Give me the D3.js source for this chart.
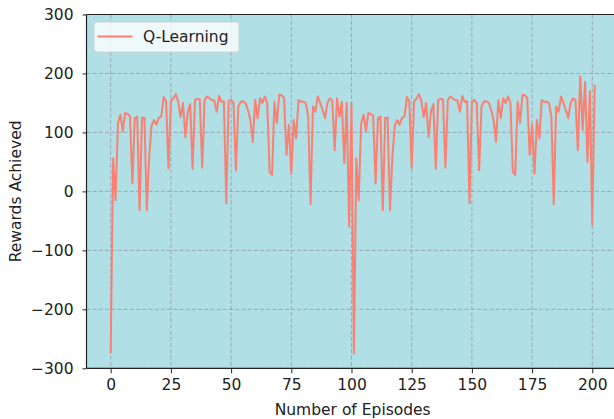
<!DOCTYPE html>
<html>
<head>
<meta charset="utf-8">
<script src="https://cdn.jsdelivr.net/npm/d3@7/dist/d3.min.js"></script>
<style>
  html, body { margin: 0; padding: 0; background: #ffffff; }
  svg { display: block; }
  text { font-family: "DejaVu Sans", sans-serif; fill: #222; }
</style>
</head>
<body>
<svg id="chart" width="614" height="419"></svg>
<script>
// Rewards per episode, first training run (episodes 0–100)
const rewardsRun1 = [
  -275, 56, -15, 115, 130, 102, 133, 131, 128, 14,
  124, 127, -32, 125, 125, -32, 60, 112, 121, 113,
  125, 127, 160, 153, 39, 153, 157, 165, 153, 126,
  150, 92, 135, 148, 38, 155, 157, 156, 40, 155,
  161, 158, 155, 154, 135, 162, 152, 153, -20, 153,
  155, 150, 36, 144, 152, 153, 150, 138, 121, 84,
  155, 124, 158, 150, 161, 150, 33, 28, 152, 116,
  164, 163, 158, 62, 113, 30, 121, 90, 155, 152,
  152, 150, 127, -22, 144, 135, 161, 150, 138, 124,
  150, 158, 155, 70, 158, 127, 152, 48, 150, -60,
  150
];
// Rewards per episode, second training run (episodes 101–201)
const rewardsRun2 = [
  -275, 56, -15, 115, 130, 102, 133, 131, 128, 14,
  124, 127, -32, 125, 125, -32, 60, 112, 121, 113,
  125, 127, 160, 153, 39, 153, 157, 165, 153, 126,
  150, 92, 135, 148, 38, 155, 157, 156, 40, 155,
  161, 158, 155, 154, 135, 162, 152, 153, -20, 153,
  155, 150, 36, 144, 152, 153, 150, 138, 121, 84,
  155, 124, 158, 150, 161, 150, 33, 28, 152, 116,
  164, 163, 158, 62, 113, 30, 121, 90, 155, 152,
  152, 150, 127, -22, 144, 135, 161, 150, 138, 124,
  150, 158, 155, 70, 195, 104, 186, 50, 170, -57,
  181
];
const xTicks = [0, 25, 50, 75, 100, 125, 150, 175, 200];
const yTicks = [-300, -200, -100, 0, 100, 200, 300];
const seriesName = "Q-Learning";
const xTitle = "Number of Episodes";
const yTitle = "Rewards Achieved";

const rewards = rewardsRun1.concat(rewardsRun2);
const points = rewards.map((v, i) => ({ episode: i, reward: v }));

const svg = d3.select("#chart");
const W = 614, H = 419;
const plot = { left: 86.5, right: 618.9, top: 14.5, bottom: 368.3 };

const xMin = -0.05 * (rewards.length - 1);
const xMax = (rewards.length - 1) * 1.05;
const x = d3.scaleLinear().domain([xMin, xMax]).range([plot.left, plot.right]);
const y = d3.scaleLinear().domain([-300, 300]).range([plot.bottom, plot.top]);

const fontSize = 15.5;
const minus = d => (d < 0 ? "\u2212" + Math.abs(d) : String(d));

svg.append("defs").append("clipPath").attr("id", "plotClip")
  .append("rect")
  .attr("x", plot.left).attr("y", plot.top)
  .attr("width", plot.right - plot.left).attr("height", plot.bottom - plot.top);

// axes background
svg.append("rect")
  .attr("x", plot.left).attr("y", plot.top)
  .attr("width", plot.right - plot.left).attr("height", plot.bottom - plot.top)
  .attr("fill", "#b0dfe5");

// dashed grid
const grid = svg.append("g").attr("clip-path", "url(#plotClip)")
  .attr("stroke", "#8f8f9c").attr("stroke-opacity", 0.75)
  .attr("stroke-width", 0.9).attr("stroke-dasharray", "4,2.2");
grid.selectAll("line.vx").data(xTicks).join("line")
  .attr("x1", d => x(d)).attr("x2", d => x(d))
  .attr("y1", plot.top).attr("y2", plot.bottom);
grid.selectAll("line.hy").data(yTicks).join("line")
  .attr("x1", plot.left).attr("x2", plot.right)
  .attr("y1", d => y(d)).attr("y2", d => y(d));

// reward line
const line = d3.line().x(d => x(d.episode)).y(d => y(d.reward));
svg.append("path")
  .datum(points)
  .attr("clip-path", "url(#plotClip)")
  .attr("fill", "none")
  .attr("stroke", "#fa8072")
  .attr("stroke-width", 2)
  .attr("stroke-linejoin", "round")
  .attr("d", line);

// axes
const xAxis = d3.axisBottom(x).tickValues(xTicks).tickSize(5).tickPadding(6).tickFormat(minus);
const yAxis = d3.axisLeft(y).tickValues(yTicks).tickSize(4).tickPadding(9).tickFormat(minus);

const gx = svg.append("g").attr("transform", `translate(0,${plot.bottom})`).call(xAxis);
const gy = svg.append("g").attr("transform", `translate(${plot.left},0)`).call(yAxis);
[gx, gy].forEach(g => {
  g.select(".domain").remove();
  g.selectAll(".tick line").attr("stroke", "#222").attr("stroke-width", 1);
  g.selectAll(".tick text")
    .style("font-family", "DejaVu Sans, sans-serif")
    .style("font-size", fontSize + "px")
    .attr("fill", "#222");
});

// spines
const spines = svg.append("g").attr("stroke", "#222").attr("stroke-width", 1.2).attr("fill", "none");
spines.append("line").attr("x1", plot.left).attr("x2", plot.left).attr("y1", plot.top).attr("y2", plot.bottom);
spines.append("line").attr("x1", plot.left).attr("x2", plot.right).attr("y1", plot.bottom).attr("y2", plot.bottom);
spines.append("line").attr("x1", plot.left).attr("x2", plot.right).attr("y1", plot.top).attr("y2", plot.top);
spines.append("line").attr("x1", plot.right).attr("x2", plot.right).attr("y1", plot.top).attr("y2", plot.bottom);

// axis titles
svg.append("text")
  .attr("x", (plot.left + plot.right) / 2).attr("y", 414.5)
  .attr("text-anchor", "middle")
  .style("font-size", fontSize + "px")
  .text(xTitle);
svg.append("text")
  .attr("transform", `translate(20.5,${(plot.top + plot.bottom) / 2}) rotate(-90)`)
  .attr("text-anchor", "middle")
  .style("font-size", fontSize + "px")
  .text(yTitle);

// legend
const legend = svg.append("g");
legend.append("rect")
  .attr("x", 94).attr("y", 22).attr("width", 145).attr("height", 30)
  .attr("rx", 3).attr("ry", 3)
  .attr("fill", "#ffffff").attr("fill-opacity", 0.8)
  .attr("stroke", "#d0d0d0").attr("stroke-width", 1);
legend.append("line")
  .attr("x1", 97.5).attr("x2", 132.5).attr("y1", 36.5).attr("y2", 36.5)
  .attr("stroke", "#fa8072").attr("stroke-width", 2);
legend.append("text")
  .attr("x", 143).attr("y", 42)
  .style("font-size", fontSize + "px")
  .text(seriesName);
</script>
</body>
</html>
